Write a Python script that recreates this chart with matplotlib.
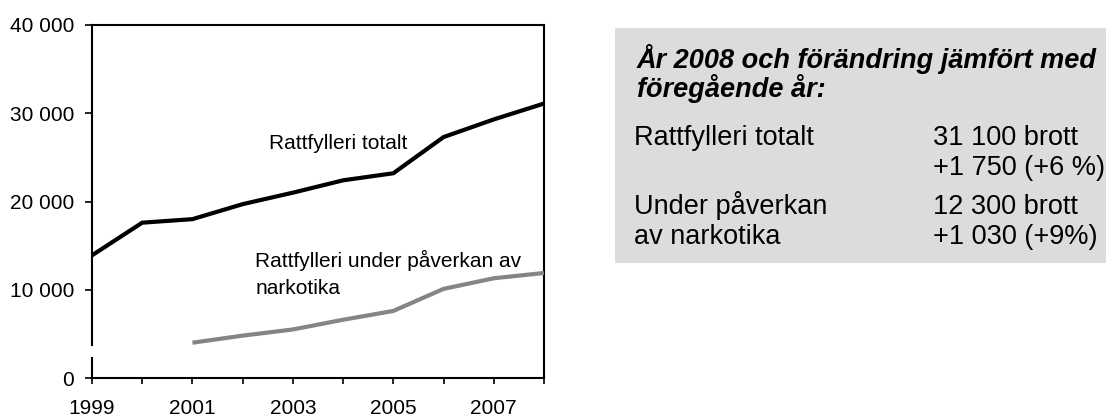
import numpy as np
import matplotlib.pyplot as plt
from matplotlib.patches import Rectangle

plt.rcParams['font.family'] = ['Liberation Sans', 'DejaVu Sans']

# data
years = np.arange(1999, 2009)
total = [13900, 17600, 18000, 19700, 21000, 22400, 23200, 27300, 29300, 31100]
drug_years = np.arange(2001, 2009)
drugs = [4000, 4800, 5500, 6600, 7600, 10100, 11300, 11900]

tick_years = np.arange(1999, 2009)
label_years = [1999, 2001, 2003, 2005, 2007]
yticks = [0, 10000, 20000, 30000, 40000]
ytick_labels = ['0', '10 000', '20 000', '30 000', '40 000']

box_left = ['Rattfylleri totalt', '', 'Under påverkan', 'av narkotika']
box_right = ['31 100 brott', '+1 750 (+6 %)', '12 300 brott', '+1 030 (+9%)']

W, H = 1106, 417
fig = plt.figure(figsize=(W / 100, H / 100), dpi=100)
ax = fig.add_axes([92 / W, 1 - 378 / H, (544 - 92) / W, (378 - 25) / H])

ax.plot(years, total, color='black', lw=3, solid_capstyle='butt', clip_on=False, zorder=3)
ax.plot(drug_years, drugs, color='#858585', lw=3, solid_capstyle='butt', clip_on=False, zorder=3)

ax.set_xlim(1999, 2008)
ax.set_ylim(0, 40000)
ax.set_xticks(tick_years)
ax.set_xticklabels([str(y) if y in label_years else '' for y in tick_years], fontsize=15)
ax.set_yticks(yticks)
ax.set_yticklabels(ytick_labels, fontsize=15)
ax.tick_params(axis='x', direction='out', length=4, width=1.2, pad=11)
ax.tick_params(axis='y', direction='out', length=5, width=1.2, pad=8)

for s in ax.spines.values():
    s.set_linewidth(1.5)
# broken y axis near the bottom
ax.spines['left'].set_bounds(3700, 40000)
ax.plot([1999, 1999], [0, 2300], color='black', lw=1.5, clip_on=False, zorder=4)

ax.text(2002.52, 26000, 'Rattfylleri totalt', fontsize=15, va='baseline')
ax.text(2002.25, 12600, 'Rattfylleri under påverkan av', fontsize=15, va='baseline')
ax.text(2002.25, 9550, 'narkotika', fontsize=15, va='baseline')

# summary box
fig.patches.append(Rectangle((615 / W, 1 - 263 / H), (W - 615) / W, (263 - 28) / H,
                             transform=fig.transFigure, facecolor='#dcdcdc',
                             edgecolor='none', zorder=0))
fig.text(637 / W, 1 - 68 / H, 'År 2008 och förändring jämfört med', fontsize=19.5,
         fontweight='bold', fontstyle='italic', va='baseline')
fig.text(637 / W, 1 - 97 / H, 'föregående år:', fontsize=19.5,
         fontweight='bold', fontstyle='italic', va='baseline')

baselines = [145, 175, 214, 244]
for left, right, b in zip(box_left, box_right, baselines):
    fig.text(634 / W, 1 - b / H, left, fontsize=19.5, va='baseline')
    fig.text(933 / W, 1 - b / H, right, fontsize=19.5, va='baseline')

fig.savefig('out.png', dpi=100)
